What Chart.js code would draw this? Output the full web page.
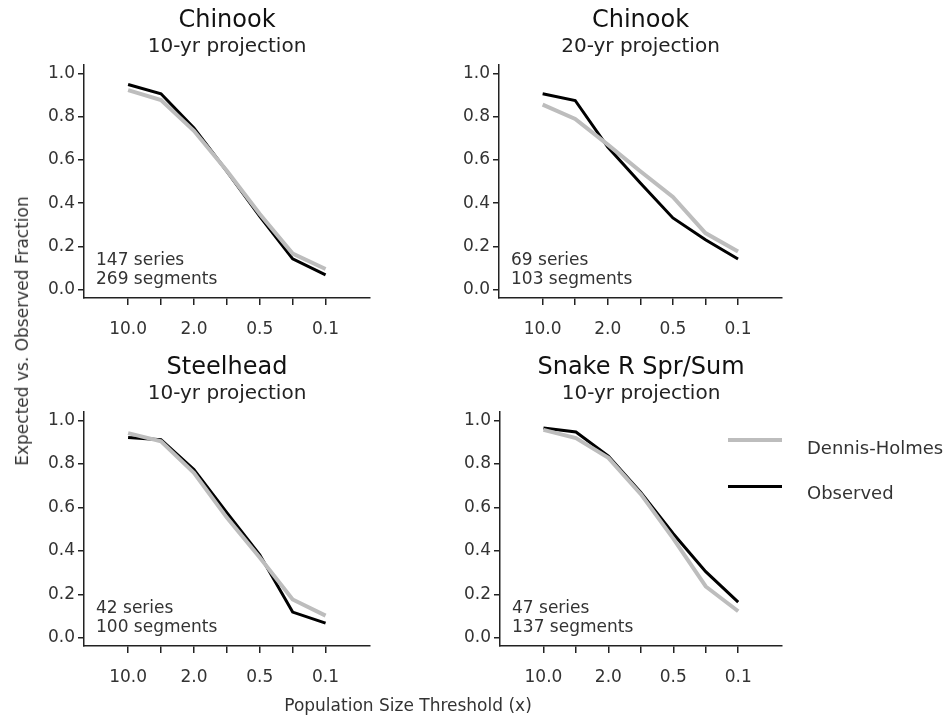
<!DOCTYPE html>
<html>
<head>
<meta charset="utf-8">
<script src="https://cdn.jsdelivr.net/npm/chart.js@4.4.0/dist/chart.umd.min.js"></script>
<style>
  body { margin: 0; background: #fff; }
  #wrap { position: relative; width: 946px; height: 719px; font-family: "DejaVu Sans", sans-serif; color: #333; }
  .panel { position: absolute; }
  #ytitle { position: absolute; left: 22px; top: 331px; transform: translate(-50%, -50%) rotate(-90deg); font-size: 17px; white-space: nowrap; }
  #xtitle { position: absolute; left: 408px; top: 705px; transform: translate(-50%, -50%); font-size: 17px; white-space: nowrap; }
  .lg-line { position: absolute; left: 728px; width: 54px; }
  .lg-text { position: absolute; left: 807px; font-size: 18px; transform: translateY(-50%); white-space: nowrap; }
</style>
</head>
<body>
<div id="wrap">
  <canvas id="c1" class="panel" width="350" height="350" style="left:30px;top:0px"></canvas>
  <canvas id="c2" class="panel" width="350" height="350" style="left:445px;top:0px"></canvas>
  <canvas id="c3" class="panel" width="350" height="350" style="left:30px;top:347px"></canvas>
  <canvas id="c4" class="panel" width="350" height="350" style="left:445px;top:347px"></canvas>
  <div id="ytitle">Expected vs. Observed Fraction</div>
  <div id="xtitle">Population Size Threshold (x)</div>
  <div class="lg-line" style="top:438px;height:4px;background:#bdbdbd"></div>
  <div class="lg-text" style="top:447px">Dennis-Holmes</div>
  <div class="lg-line" style="top:485px;height:3px;background:#000"></div>
  <div class="lg-text" style="top:492px">Observed</div>
</div>
<script>
// population size thresholds (x), evenly spaced on the axis
const thresholds = ['10.0', '5.0', '2.0', '1.0', '0.5', '0.2', '0.1'];
const yTicks = [0, 0.2, 0.4, 0.6, 0.8, 1.0];

const titles = ['Chinook', 'Chinook', 'Steelhead', 'Snake R Spr/Sum'];
const subtitles = ['10-yr projection', '20-yr projection', '10-yr projection', '10-yr projection'];
const notes = [
  ['147 series', '269 segments'],
  ['69 series', '103 segments'],
  ['42 series', '100 segments'],
  ['47 series', '137 segments']
];

// Dennis-Holmes expected fraction
const dhChinook10 = [0.923, 0.877, 0.735, 0.550, 0.350, 0.167, 0.096];
const dhChinook20 = [0.856, 0.790, 0.671, 0.548, 0.429, 0.262, 0.177];
const dhSteelhead = [0.942, 0.904, 0.759, 0.553, 0.369, 0.176, 0.102];
const dhSnake     = [0.957, 0.919, 0.828, 0.661, 0.456, 0.236, 0.122];

// observed fraction
const obsChinook10 = [0.949, 0.906, 0.748, 0.548, 0.340, 0.143, 0.069];
const obsChinook20 = [0.906, 0.875, 0.660, 0.494, 0.332, 0.231, 0.142];
const obsSteelhead = [0.922, 0.911, 0.774, 0.576, 0.382, 0.118, 0.067];
const obsSnake     = [0.965, 0.947, 0.836, 0.669, 0.479, 0.304, 0.164];

const dhSeries = [dhChinook10, dhChinook20, dhSteelhead, dhSnake];
const obsSeries = [obsChinook10, obsChinook20, obsSteelhead, obsSnake];

// layout of each panel inside its canvas
const layout = [
  { yWidth: 54, xHeight: 52, padRight: 10 },
  { yWidth: 54, xHeight: 52, padRight: 13 },
  { yWidth: 54, xHeight: 51, padRight: 10 },
  { yWidth: 55, xHeight: 51, padRight: 13 }
];

const FONT = '"DejaVu Sans", sans-serif';
const toPoints = vals => vals.map((v, i) => ({ x: i, y: v }));

const notePlugin = {
  id: 'notes',
  afterDatasetsDraw(chart, args, opts) {
    const { ctx, chartArea, scales } = chart;
    ctx.save();
    ctx.font = '17px ' + FONT;
    ctx.fillStyle = '#333';
    ctx.textBaseline = 'middle';
    ctx.textAlign = 'left';
    ctx.fillText(opts.lines[0], chartArea.left + 12, scales.y.getPixelForValue(0.135));
    ctx.fillText(opts.lines[1], chartArea.left + 12, scales.y.getPixelForValue(0.048));
    ctx.restore();
  }
};

for (let p = 0; p < 4; p++) {
  const L = layout[p];
  new Chart(document.getElementById('c' + (p + 1)), {
    type: 'line',
    data: {
      datasets: [
        { label: 'Dennis-Holmes', data: toPoints(dhSeries[p]), borderColor: '#bdbdbd', borderWidth: 4 },
        { label: 'Observed', data: toPoints(obsSeries[p]), borderColor: '#000', borderWidth: 3 }
      ]
    },
    options: {
      responsive: false,
      animation: false,
      layout: { padding: { left: 0, right: L.padRight, top: 0, bottom: 0 } },
      elements: { point: { radius: 0 }, line: { tension: 0, borderCapStyle: 'butt' } },
      plugins: {
        legend: { display: false },
        tooltip: { enabled: false },
        title: {
          display: true, text: titles[p], fullSize: false, color: '#111',
          font: { family: FONT, size: 24, weight: 'normal' }, padding: { top: 6, bottom: 0 }
        },
        subtitle: {
          display: true, text: subtitles[p], fullSize: false, color: '#222',
          font: { family: FONT, size: 20, weight: 'normal' }, padding: { top: 0, bottom: 6 }
        },
        notes: { lines: notes[p] }
      },
      scales: {
        x: {
          type: 'linear', min: -1.34, max: 7.35,
          afterBuildTicks: s => { s.ticks = thresholds.map((t, i) => ({ value: i })); },
          afterFit: s => { s.height = L.xHeight; },
          ticks: {
            autoSkip: false, maxRotation: 0, padding: 14, color: '#333',
            font: { family: FONT, size: 17 },
            callback: v => (v % 2 === 0 ? thresholds[v] : '')
          },
          grid: { drawOnChartArea: false, drawTicks: true, tickLength: 7, color: '#222', lineWidth: 1.5 },
          border: { display: true, color: '#222', width: 1.5 }
        },
        y: {
          min: -0.038, max: 1.04,
          afterBuildTicks: s => { s.ticks = yTicks.map(v => ({ value: v })); },
          afterFit: s => { s.width = L.yWidth; },
          ticks: {
            padding: 3, color: '#333',
            font: { family: FONT, size: 17 },
            callback: v => Number(v).toFixed(1)
          },
          grid: { drawOnChartArea: false, drawTicks: true, tickLength: 6, color: '#222', lineWidth: 1.5 },
          border: { display: true, color: '#222', width: 1.5 }
        }
      }
    },
    plugins: [notePlugin]
  });
}
</script>
</body>
</html>
